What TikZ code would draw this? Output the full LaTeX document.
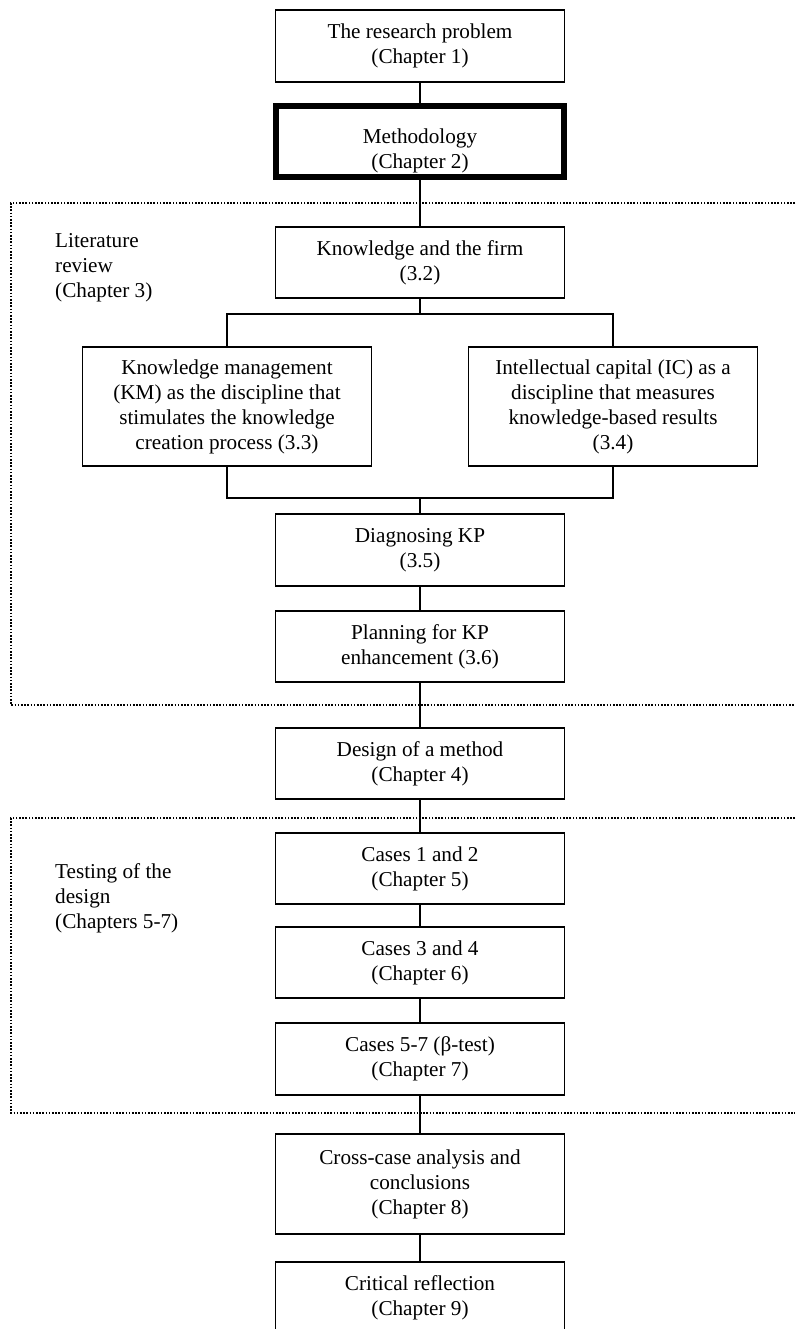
\documentclass[tikz,border=0pt]{standalone}
\usepackage{fontspec}
\setmainfont{Liberation Serif}
\begin{document}
\begin{tikzpicture}[x=1pt,y=-1pt,
  txt/.style={font=\fontsize{21.2}{25}\selectfont},
  stage/.style={txt, draw, rectangle, line width=1.8pt, minimum width=289pt,
    align=center, inner sep=0pt},
  keyframe/.style={draw, rectangle, line width=6pt, minimum width=288pt,
    minimum height=71pt, inner sep=0pt},
  group/.style={line width=1.6pt, dash pattern=on 1.6pt off 1.6pt},
  grouplabel/.style={txt, anchor=west, align=left, inner sep=0pt},
  link/.style={line width=1.8pt}]
\useasboundingbox (0,0) rectangle (795,1329);

% dotted groupings, open on the right
\draw[group] (795,203) -- (11,203) -- (11,705) -- (795,705);
\draw[group] (795,818) -- (11,818) -- (11,1113) -- (795,1113);
\node[grouplabel] (litlabel) at (55,268) {Literature\\review\\(Chapter 3)};
\node[grouplabel] (testlabel) at (55,898) {Testing of the\\design\\(Chapters 5-7)};

% stages
\node[stage, minimum height=72pt] (prob) at (420,46) {The research problem\\(Chapter 1)};
\node[keyframe] (meth) at (420,141.5) {};
\node[txt, align=center, inner sep=0pt] (methtext) at (420,151) {Methodology\\(Chapter 2)};
\node[stage, minimum height=71pt] (firm) at (420,262.5) {Knowledge and the firm\\(3.2)};
\node[stage, minimum height=119pt] (km) at (227,406.5)
  {Knowledge management\\(KM) as the discipline that\\stimulates the knowledge\\creation process (3.3)};
\node[stage, minimum height=119pt] (ic) at (613,406.5)
  {Intellectual capital (IC) as a\\discipline that measures\\knowledge-based results\\(3.4)};
\node[stage, minimum height=72pt] (diag) at (420,550) {Diagnosing KP\\(3.5)};
\node[stage, minimum height=71pt] (plan) at (420,646.5) {Planning for KP\\enhancement (3.6)};
\node[stage, minimum height=71pt] (design) at (420,763.5) {Design of a method\\(Chapter 4)};
\node[stage, minimum height=71pt] (caseA) at (420,868.5) {Cases 1 and 2\\(Chapter 5)};
\node[stage, minimum height=71pt] (caseB) at (420,962.5) {Cases 3 and 4\\(Chapter 6)};
\node[stage, minimum height=72pt] (caseC) at (420,1059) {Cases 5-7 (β-test)\\(Chapter 7)};
\node[stage, minimum height=100pt] (cross) at (420,1184) {Cross-case analysis and\\conclusions\\(Chapter 8)};
\node[stage, minimum height=72pt] (refl) at (420,1298) {Critical reflection\\(Chapter 9)};

% connectors
\coordinate (split) at (420,314);
\coordinate (merge) at (420,498);
\draw[link] (prob) -- (meth);
\draw[link] (meth) -- (firm);
\draw[link] (firm) -- (split);
\draw[link] (km.north) |- (split) -| (ic.north);
\draw[link] (km.south) |- (merge) -| (ic.south);
\draw[link] (merge) -- (diag);
\draw[link] (diag) -- (plan);
\draw[link] (plan) -- (design);
\draw[link] (design) -- (caseA);
\draw[link] (caseA) -- (caseB);
\draw[link] (caseB) -- (caseC);
\draw[link] (caseC) -- (cross);
\draw[link] (cross) -- (refl);
\end{tikzpicture}
\end{document}
